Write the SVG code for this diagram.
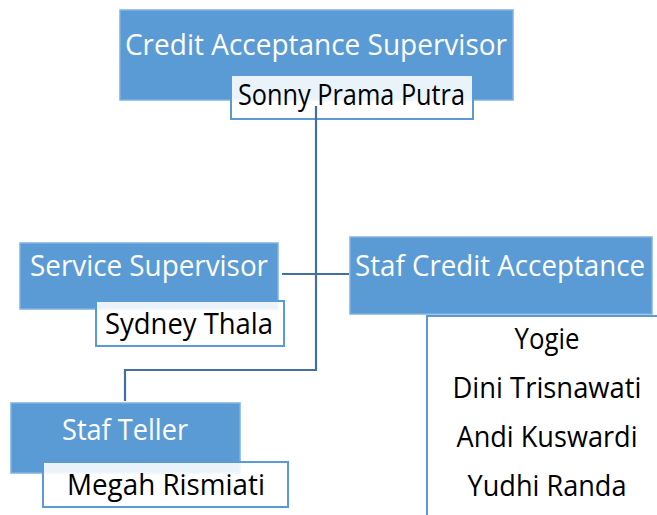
<svg xmlns="http://www.w3.org/2000/svg" width="657" height="515" viewBox="0 0 657 515">
<style>
.role{fill:#5b9bd5;stroke:#7fb1e1;stroke-width:1.5}
.name{fill:#ffffff;fill-opacity:0.88;stroke:#5b9bd5;stroke-width:2}
.rt{font-family:"Open Sans","Liberation Sans",sans-serif;font-size:28.5px;fill:#ffffff}
.nt{font-family:"Open Sans","Liberation Sans",sans-serif;font-size:28.5px;fill:#000000}
.conn{fill:none;stroke:#41719c;stroke-width:2.2}
</style>
<rect width="657" height="515" fill="#ffffff"/>
<g id="node-cas">
<rect class="role" x="120" y="10" width="393" height="90"/>
<text class="rt" x="125" y="55" textLength="382" lengthAdjust="spacingAndGlyphs">Credit Acceptance Supervisor</text>
<rect class="name" x="231" y="75" width="242" height="44"/>
<text class="nt" x="238" y="105" textLength="227" lengthAdjust="spacingAndGlyphs">Sonny Prama Putra</text>
</g>
<g id="node-ss">
<rect class="role" x="20" y="243" width="258" height="66"/>
<text class="rt" x="30" y="276" textLength="238" lengthAdjust="spacingAndGlyphs">Service Supervisor</text>
<rect class="name" x="96" y="301" width="188" height="45"/>
<text class="nt" x="105" y="334" textLength="168" lengthAdjust="spacingAndGlyphs">Sydney Thala</text>
</g>
<g id="node-sca">
<rect class="role" x="350" y="237" width="302" height="77"/>
<text class="rt" x="355" y="276" textLength="290" lengthAdjust="spacingAndGlyphs">Staf Credit Acceptance</text>
<rect class="name" x="427" y="316" width="240" height="210"/>
<text class="nt" x="547" y="349" text-anchor="middle" textLength="65" lengthAdjust="spacingAndGlyphs">Yogie</text>
<text class="nt" x="547" y="398" text-anchor="middle" textLength="189" lengthAdjust="spacingAndGlyphs">Dini Trisnawati</text>
<text class="nt" x="547" y="447" text-anchor="middle" textLength="181" lengthAdjust="spacingAndGlyphs">Andi Kuswardi</text>
<text class="nt" x="547" y="496" text-anchor="middle" textLength="159" lengthAdjust="spacingAndGlyphs">Yudhi Randa</text>
</g>
<g id="node-st">
<rect class="role" x="11" y="403" width="229" height="70"/>
<text class="rt" x="62" y="440" textLength="126" lengthAdjust="spacingAndGlyphs">Staf Teller</text>
<rect class="name" x="43" y="462" width="245" height="45"/>
<text class="nt" x="67" y="495" textLength="198" lengthAdjust="spacingAndGlyphs">Megah Rismiati</text>
</g>
<g id="connectors">
<path class="conn" d="M316,106 V370 H125 V401"/>
<path class="conn" d="M282,274 H349"/>
</g>
</svg>
